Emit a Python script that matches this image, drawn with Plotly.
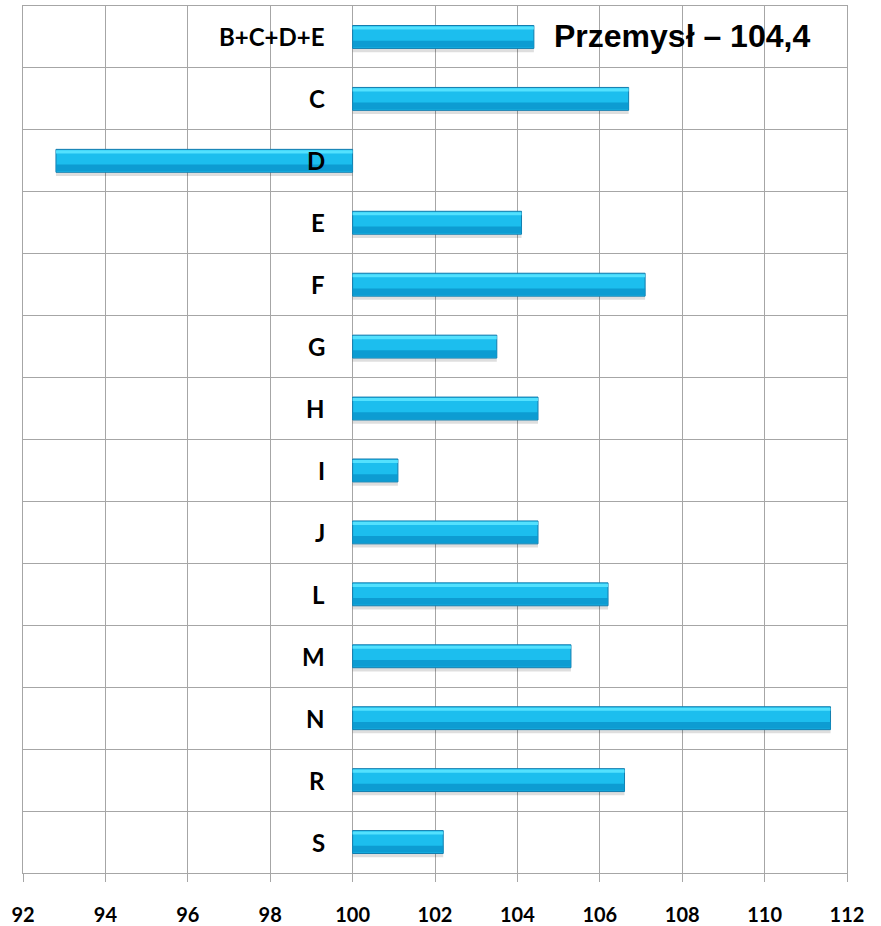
import plotly.graph_objects as go

categories = ["B+C+D+E", "C", "D", "E", "F", "G", "H", "I", "J", "L", "M", "N", "R", "S"]
values = [104.4, 106.7, 92.8, 104.1, 107.1, 103.5, 104.5, 101.1, 104.5, 106.2, 105.3, 111.6, 106.6, 102.2]
base_value = 100
x_ticks = [92, 94, 96, 98, 100, 102, 104, 106, 108, 110, 112]
note_text = "Przemysł – 104,4"

ypos = list(range(len(categories)))
delta = [v - base_value for v in values]
W = 0.37

fig = go.Figure()
# shadow
fig.add_trace(go.Bar(y=ypos, x=delta, base=base_value, orientation="h",
                     width=W, offset=-W / 2 + 0.06,
                     marker=dict(color="rgba(0,0,0,0.13)", line=dict(width=0)),
                     hoverinfo="skip", showlegend=False))
# main bar
fig.add_trace(go.Bar(y=ypos, x=delta, base=base_value, orientation="h",
                     width=W,
                     marker=dict(color="#1CBEEE", line=dict(color="#137DAE", width=1)),
                     showlegend=False, name=""))
# lower darker band
fig.add_trace(go.Bar(y=ypos, x=delta, base=base_value, orientation="h",
                     width=0.11, offset=W / 2 - 0.125,
                     marker=dict(color="rgba(10,150,205,0.85)", line=dict(width=0)),
                     hoverinfo="skip", showlegend=False))
# top light band
fig.add_trace(go.Bar(y=ypos, x=delta, base=base_value, orientation="h",
                     width=0.05, offset=-W / 2 + 0.015,
                     marker=dict(color="rgba(90,228,255,0.9)", line=dict(width=0)),
                     hoverinfo="skip", showlegend=False))

annotations = []
for i, c in enumerate(categories):
    annotations.append(dict(x=base_value, y=i, xref="x", yref="y", text=c,
                            xanchor="right", yanchor="middle", xshift=-26,
                            showarrow=False,
                            font=dict(family="Lato", size=24, color="black", weight="bold")))
annotations.append(dict(x=108.0, y=0, xref="x", yref="y", text=note_text,
                        xanchor="center", yanchor="middle", showarrow=False, yshift=1,
                        font=dict(family="Arial, Liberation Sans", size=32, color="black",
                                  weight="bold")))

fig.update_layout(
    width=881, height=926,
    margin=dict(l=23, r=34, t=6, b=53),
    paper_bgcolor="white", plot_bgcolor="white",
    barmode="overlay",
    annotations=annotations,
    xaxis=dict(range=[92, 112], tickvals=x_ticks, ticktext=[str(t) for t in x_ticks],
               showgrid=True, gridcolor="#A6A6A6", gridwidth=1,
               showline=True, linecolor="#A6A6A6", linewidth=1, mirror=True,
               ticks="outside", ticklen=8, tickcolor="#A6A6A6",
               ticklabelstandoff=16, automargin=False,
               tickfont=dict(family="Lato", size=20, color="black", weight="bold"),
               zeroline=False, fixedrange=True),
    yaxis=dict(range=[len(categories) - 0.5, -0.5],
               tickvals=[i - 0.5 for i in range(len(categories) + 1)],
               showticklabels=False, ticks="", automargin=False,
               showgrid=True, gridcolor="#A6A6A6", gridwidth=1,
               showline=True, linecolor="#A6A6A6", linewidth=1, mirror=True,
               zeroline=False, fixedrange=True),
    showlegend=False,
)

fig.write_html("out.html", config={"displayModeBar": False},
               post_script="document.body.style.margin='0';document.body.style.padding='0';")
